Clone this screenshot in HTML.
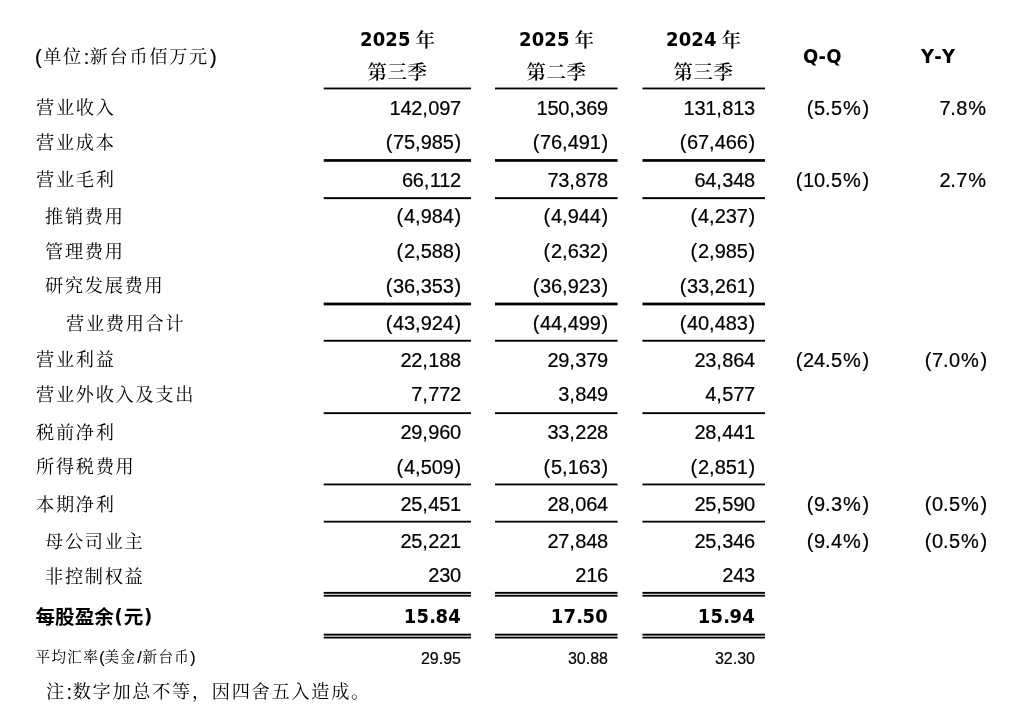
<!DOCTYPE html>
<html lang="zh-Hans">
<head>
<meta charset="utf-8">
<style>
html,body{margin:0;padding:0;background:#fff}
body{width:1024px;height:710px;position:relative;overflow:hidden;color:#000;
  font-family:"Liberation Sans","Noto Serif CJK SC",serif;font-size:20px}
.t{-webkit-text-stroke:0.2px #000;letter-spacing:-0.2px;position:absolute;white-space:nowrap;line-height:30px;height:30px;font-weight:400}
.n{text-align:right}
.c{text-align:center}

.h .z{font-weight:600;font-size:19.4px;letter-spacing:0.6px}
.b{-webkit-text-stroke:0;word-spacing:-1.8px;font-kerning:none;font-family:"DejaVu Sans Condensed","DejaVu Sans","Liberation Sans",sans-serif;font-weight:700;font-stretch:condensed}
.s{font-size:16px;letter-spacing:0}
.z{-webkit-text-stroke:0;font-family:"Liberation Serif","Noto Serif CJK SC",serif;font-weight:400;font-size:18.2px;letter-spacing:1.7px;position:relative;top:-1.0px;line-height:0}
.s .z{font-size:14.56px;letter-spacing:1.36px}
.b .z{font-weight:600;font-size:19.6px;letter-spacing:0;top:0.5px}
.e .z{-webkit-text-stroke:0;font-family:"Liberation Sans","Noto Sans CJK SC",sans-serif;font-weight:700}
.ln{position:absolute}
.ln::before{content:"";position:absolute;top:0;width:1px;height:100%;background:inherit}
.k1{left:324px;width:147px}
.k1::before{left:-1px;opacity:.3}
.k2{left:495px;width:122px}
.k2::before{right:-1px;opacity:.55}
.k3{left:643px;width:122px}
.k3::before{left:-1px;opacity:.55}
.g0{height:3px;background:linear-gradient(to bottom,rgba(0,0,0,0.45) 0px 1px,#000 1px 2px,rgba(0,0,0,0.35) 2px 3px)}
.g1{height:3px;background:linear-gradient(to bottom,rgba(0,0,0,0.9) 0px 1px,#000 1px 2px,rgba(0,0,0,0.8) 2px 3px)}
.g2{height:3px;background:linear-gradient(to bottom,rgba(0,0,0,0.85) 0px 1px,#000 1px 2px,rgba(0,0,0,0.15) 2px 3px)}
.g3{height:4px;background:linear-gradient(to bottom,rgba(0,0,0,0.4) 0px 1px,#000 1px 2px,#000 2px 3px,rgba(0,0,0,0.35) 3px 4px)}
.g4{height:3px;background:linear-gradient(to bottom,rgba(0,0,0,0.2) 0px 1px,#000 1px 2px,rgba(0,0,0,0.7) 2px 3px)}
.g5{height:3px;background:linear-gradient(to bottom,rgba(0,0,0,0.8) 0px 1px,#000 1px 2px,rgba(0,0,0,0.1) 2px 3px)}
.g6{height:3px;background:linear-gradient(to bottom,rgba(0,0,0,0.45) 0px 1px,#000 1px 2px,rgba(0,0,0,0.35) 2px 3px)}
.g7{height:3px;background:linear-gradient(to bottom,rgba(0,0,0,0.25) 0px 1px,#000 1px 2px,rgba(0,0,0,0.55) 2px 3px)}
.g8{height:6px;background:linear-gradient(to bottom,rgba(0,0,0,0.1) 0px 1px,#000 1px 2px,rgba(0,0,0,0.8) 2px 3px,rgba(0,0,0,0.2) 3px 4px,#000 4px 5px,rgba(0,0,0,0.65) 5px 6px)}
.g9{height:6px;background:linear-gradient(to bottom,rgba(0,0,0,0.3) 0px 1px,#000 1px 2px,rgba(0,0,0,0.6) 2px 3px,rgba(0,0,0,0.3) 3px 4px,#000 4px 5px,rgba(0,0,0,0.5) 5px 6px)}
.pl{margin-right:0.9px}
.pr{margin-left:0.9px}
.cm{letter-spacing:0.4px}
.pc{letter-spacing:0.9px;margin-left:1.1px}
.co{margin:0 0.7px}
.sl{margin:0 1px}
.s .p{margin:0;letter-spacing:0}
.s .sl{margin:0 0.9px}
.e .p{margin:0 0.7px}
.b{letter-spacing:0.2px}
.b .cm{letter-spacing:-0.6px}
.un .pl{margin-right:1.7px}
</style>
</head>
<body>

<main>
<section class="r hd">
<div class="t un" style="left:35px;top:42px"><span class="p pl">(</span><span class="z">单位</span><span class="p co">:</span><span class="z">新台币佰万元</span><span class="p pr">)</span></div>
<div class="t c b" style="left:297.5px;width:200px;top:24px">2025 <span class="z">年</span></div>
<div class="t c h" style="left:297.5px;width:200px;top:58px"><span class="z">第三季</span></div>
<div class="t c b" style="left:456.5px;width:200px;top:24px">2025 <span class="z">年</span></div>
<div class="t c h" style="left:456.5px;width:200px;top:58px"><span class="z">第二季</span></div>
<div class="t c b" style="left:603.5px;width:200px;top:24px">2024 <span class="z">年</span></div>
<div class="t c h" style="left:603.5px;width:200px;top:58px"><span class="z">第三季</span></div>
<div class="t b" style="left:803px;top:41px">Q-Q</div>
<div class="t b" style="left:921px;top:41px">Y-Y</div>
</section>
<section class="r">
<div class="t " style="left:36px;top:93px"><span class="z">营业收入</span></div>
<div class="t n " style="right:563px;top:93px">142<span class="p cm">,</span>097</div>
<div class="t n " style="right:416px;top:93px">150<span class="p cm">,</span>369</div>
<div class="t n " style="right:269px;top:93px">131<span class="p cm">,</span>813</div>
<div class="t n " style="right:155px;top:93px"><span class="p pl">(</span>5<span class="p cm">.</span>5<span class="p pc">%</span><span class="p pr">)</span></div>
<div class="t n " style="right:37px;top:93px">7<span class="p cm">.</span>8<span class="p pc">%</span></div>
</section>
<section class="r">
<div class="t " style="left:36px;top:128px"><span class="z">营业成本</span></div>
<div class="t n " style="right:563px;top:127px"><span class="p pl">(</span>75<span class="p cm">,</span>985<span class="p pr">)</span></div>
<div class="t n " style="right:416px;top:127px"><span class="p pl">(</span>76<span class="p cm">,</span>491<span class="p pr">)</span></div>
<div class="t n " style="right:269px;top:127px"><span class="p pl">(</span>67<span class="p cm">,</span>466<span class="p pr">)</span></div>
</section>
<section class="r">
<div class="t " style="left:36px;top:165px"><span class="z">营业毛利</span></div>
<div class="t n " style="right:563px;top:165px">66<span class="p cm">,</span>112</div>
<div class="t n " style="right:416px;top:165px">73<span class="p cm">,</span>878</div>
<div class="t n " style="right:269px;top:165px">64<span class="p cm">,</span>348</div>
<div class="t n " style="right:155px;top:165px"><span class="p pl">(</span>10<span class="p cm">.</span>5<span class="p pc">%</span><span class="p pr">)</span></div>
<div class="t n " style="right:37px;top:165px">2<span class="p cm">.</span>7<span class="p pc">%</span></div>
</section>
<section class="r">
<div class="t " style="left:45px;top:202px"><span class="z">推销费用</span></div>
<div class="t n " style="right:563px;top:201px"><span class="p pl">(</span>4<span class="p cm">,</span>984<span class="p pr">)</span></div>
<div class="t n " style="right:416px;top:201px"><span class="p pl">(</span>4<span class="p cm">,</span>944<span class="p pr">)</span></div>
<div class="t n " style="right:269px;top:201px"><span class="p pl">(</span>4<span class="p cm">,</span>237<span class="p pr">)</span></div>
</section>
<section class="r">
<div class="t " style="left:45px;top:237px"><span class="z">管理费用</span></div>
<div class="t n " style="right:563px;top:236px"><span class="p pl">(</span>2<span class="p cm">,</span>588<span class="p pr">)</span></div>
<div class="t n " style="right:416px;top:236px"><span class="p pl">(</span>2<span class="p cm">,</span>632<span class="p pr">)</span></div>
<div class="t n " style="right:269px;top:236px"><span class="p pl">(</span>2<span class="p cm">,</span>985<span class="p pr">)</span></div>
</section>
<section class="r">
<div class="t " style="left:45px;top:271px"><span class="z">研究发展费用</span></div>
<div class="t n " style="right:563px;top:271px"><span class="p pl">(</span>36<span class="p cm">,</span>353<span class="p pr">)</span></div>
<div class="t n " style="right:416px;top:271px"><span class="p pl">(</span>36<span class="p cm">,</span>923<span class="p pr">)</span></div>
<div class="t n " style="right:269px;top:271px"><span class="p pl">(</span>33<span class="p cm">,</span>261<span class="p pr">)</span></div>
</section>
<section class="r">
<div class="t " style="left:66px;top:309px"><span class="z">营业费用合计</span></div>
<div class="t n " style="right:563px;top:308px"><span class="p pl">(</span>43<span class="p cm">,</span>924<span class="p pr">)</span></div>
<div class="t n " style="right:416px;top:308px"><span class="p pl">(</span>44<span class="p cm">,</span>499<span class="p pr">)</span></div>
<div class="t n " style="right:269px;top:308px"><span class="p pl">(</span>40<span class="p cm">,</span>483<span class="p pr">)</span></div>
</section>
<section class="r">
<div class="t " style="left:36px;top:345px"><span class="z">营业利益</span></div>
<div class="t n " style="right:563px;top:345px">22<span class="p cm">,</span>188</div>
<div class="t n " style="right:416px;top:345px">29<span class="p cm">,</span>379</div>
<div class="t n " style="right:269px;top:345px">23<span class="p cm">,</span>864</div>
<div class="t n " style="right:155px;top:345px"><span class="p pl">(</span>24<span class="p cm">.</span>5<span class="p pc">%</span><span class="p pr">)</span></div>
<div class="t n " style="right:37px;top:345px"><span class="p pl">(</span>7<span class="p cm">.</span>0<span class="p pc">%</span><span class="p pr">)</span></div>
</section>
<section class="r">
<div class="t " style="left:36px;top:380px"><span class="z">营业外收入及支出</span></div>
<div class="t n " style="right:563px;top:379px">7<span class="p cm">,</span>772</div>
<div class="t n " style="right:416px;top:379px">3<span class="p cm">,</span>849</div>
<div class="t n " style="right:269px;top:379px">4<span class="p cm">,</span>577</div>
</section>
<section class="r">
<div class="t " style="left:36px;top:418px"><span class="z">税前净利</span></div>
<div class="t n " style="right:563px;top:417px">29<span class="p cm">,</span>960</div>
<div class="t n " style="right:416px;top:417px">33<span class="p cm">,</span>228</div>
<div class="t n " style="right:269px;top:417px">28<span class="p cm">,</span>441</div>
</section>
<section class="r">
<div class="t " style="left:36px;top:452px"><span class="z">所得税费用</span></div>
<div class="t n " style="right:563px;top:452px"><span class="p pl">(</span>4<span class="p cm">,</span>509<span class="p pr">)</span></div>
<div class="t n " style="right:416px;top:452px"><span class="p pl">(</span>5<span class="p cm">,</span>163<span class="p pr">)</span></div>
<div class="t n " style="right:269px;top:452px"><span class="p pl">(</span>2<span class="p cm">,</span>851<span class="p pr">)</span></div>
</section>
<section class="r">
<div class="t " style="left:36px;top:490px"><span class="z">本期净利</span></div>
<div class="t n " style="right:563px;top:489px">25<span class="p cm">,</span>451</div>
<div class="t n " style="right:416px;top:489px">28<span class="p cm">,</span>064</div>
<div class="t n " style="right:269px;top:489px">25<span class="p cm">,</span>590</div>
<div class="t n " style="right:155px;top:489px"><span class="p pl">(</span>9<span class="p cm">.</span>3<span class="p pc">%</span><span class="p pr">)</span></div>
<div class="t n " style="right:37px;top:489px"><span class="p pl">(</span>0<span class="p cm">.</span>5<span class="p pc">%</span><span class="p pr">)</span></div>
</section>
<section class="r">
<div class="t " style="left:45px;top:527px"><span class="z">母公司业主</span></div>
<div class="t n " style="right:563px;top:526px">25<span class="p cm">,</span>221</div>
<div class="t n " style="right:416px;top:526px">27<span class="p cm">,</span>848</div>
<div class="t n " style="right:269px;top:526px">25<span class="p cm">,</span>346</div>
<div class="t n " style="right:155px;top:526px"><span class="p pl">(</span>9<span class="p cm">.</span>4<span class="p pc">%</span><span class="p pr">)</span></div>
<div class="t n " style="right:37px;top:526px"><span class="p pl">(</span>0<span class="p cm">.</span>5<span class="p pc">%</span><span class="p pr">)</span></div>
</section>
<section class="r">
<div class="t " style="left:45px;top:562px"><span class="z">非控制权益</span></div>
<div class="t n " style="right:563px;top:560px">230</div>
<div class="t n " style="right:416px;top:560px">216</div>
<div class="t n " style="right:269px;top:560px">243</div>
</section>
<section class="r">
<div class="t b e" style="left:35.5px;top:601px"><span class="z">每股盈余</span><span class="p pl">(</span><span class="z">元</span><span class="p pr">)</span></div>
<div class="t n b" style="right:563px;top:601px">15<span class="p cm">.</span>84</div>
<div class="t n b" style="right:416px;top:601px">17<span class="p cm">.</span>50</div>
<div class="t n b" style="right:269px;top:601px">15<span class="p cm">.</span>94</div>
</section>
<section class="r">
<div class="t s" style="left:35.5px;top:643px"><span class="z">平均汇率</span><span class="p pl">(</span><span class="z">美金</span><span class="p sl">/</span><span class="z">新台币</span><span class="p pr">)</span></div>
<div class="t n s" style="right:563px;top:644px">29<span class="p cm">.</span>95</div>
<div class="t n s" style="right:416px;top:644px">30<span class="p cm">.</span>88</div>
<div class="t n s" style="right:269px;top:644px">32<span class="p cm">.</span>30</div>
</section>
<section class="r">
<div class="t " style="left:46px;top:677px"><span class="z">注</span><span class="p co">:</span><span class="z">数字加总不等，因四舍五入造成。</span></div>
</section>
<div class="ln k1 g0" style="top:87px"></div>
<div class="ln k2 g0" style="top:87px"></div>
<div class="ln k3 g0" style="top:87px"></div>
<div class="ln k1 g1" style="top:159px"></div>
<div class="ln k2 g1" style="top:159px"></div>
<div class="ln k3 g1" style="top:159px"></div>
<div class="ln k1 g2" style="top:197px"></div>
<div class="ln k2 g2" style="top:197px"></div>
<div class="ln k3 g2" style="top:197px"></div>
<div class="ln k1 g3" style="top:302px"></div>
<div class="ln k2 g3" style="top:302px"></div>
<div class="ln k3 g3" style="top:302px"></div>
<div class="ln k1 g4" style="top:339px"></div>
<div class="ln k2 g4" style="top:339px"></div>
<div class="ln k3 g4" style="top:339px"></div>
<div class="ln k1 g5" style="top:412px"></div>
<div class="ln k2 g5" style="top:412px"></div>
<div class="ln k3 g5" style="top:412px"></div>
<div class="ln k1 g6" style="top:483px"></div>
<div class="ln k2 g6" style="top:483px"></div>
<div class="ln k3 g6" style="top:483px"></div>
<div class="ln k1 g7" style="top:520px"></div>
<div class="ln k2 g7" style="top:520px"></div>
<div class="ln k3 g7" style="top:520px"></div>
<div class="ln k1 g8" style="top:591px"></div>
<div class="ln k2 g8" style="top:591px"></div>
<div class="ln k3 g8" style="top:591px"></div>
<div class="ln k1 g9" style="top:633px"></div>
<div class="ln k2 g9" style="top:633px"></div>
<div class="ln k3 g9" style="top:633px"></div>
</main>
</body>
</html>
